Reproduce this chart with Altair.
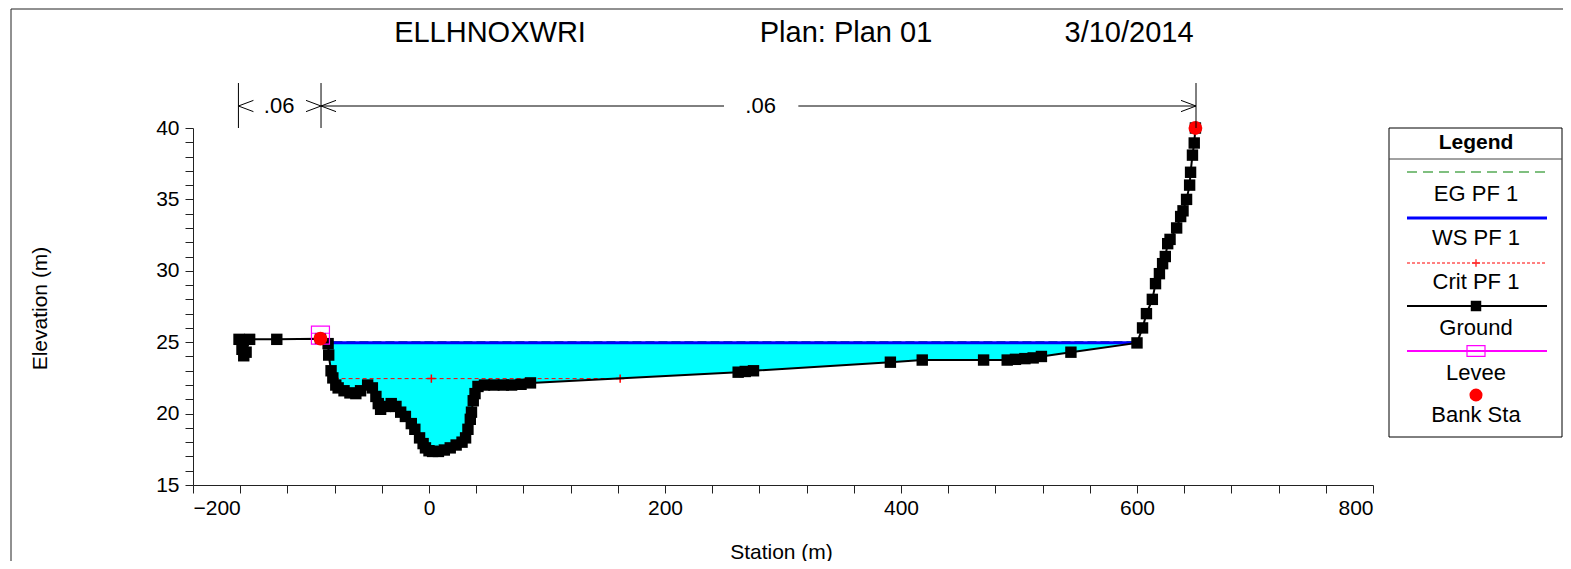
import altair as alt
import pandas as pd

FONT = "Liberation Sans"

# ---------------- data ----------------
STATION = [-161, -158.5, -157, -155, -152, -129, -92, -85.5, -85, -83, -81.5, -79, -77, -72,
           -67, -62, -58, -52, -48, -45, -43, -41, -37, -32, -28, -24, -20, -15, -12, -8,
           -5, -3, 0, 3, 8, 13, 18, 23, 28, 31, 33, 35, 36, 37.5, 39, 41.5, 47, 55, 63, 70,
           78, 86, 262, 268, 275, 391, 418, 470, 490, 497, 505, 512, 519, 544, 600, 604.7,
           608, 613, 615.7, 619, 621.7, 624, 626, 628, 633.6, 637, 639, 642, 644.6, 645.4,
           647, 648.5, 649.5]
ELEV = [25.2, 24.5, 24.05, 24.3, 25.2, 25.2, 25.25, 24.9, 24.1, 23.0, 22.5, 22.0, 21.8, 21.6,
        21.45, 21.4, 21.6, 22.0, 21.8, 21.2, 20.7, 20.3, 20.5, 20.7, 20.5, 20.1, 19.8, 19.3,
        18.9, 18.3, 17.9, 17.6, 17.4, 17.35, 17.35, 17.45, 17.6, 17.8, 18.0, 18.3, 18.9,
        19.6, 20.1, 20.9, 21.4, 21.9, 22.0, 22.0, 22.0, 22.0, 22.05, 22.15, 22.9, 22.95,
        23.0, 23.6, 23.75, 23.75, 23.75, 23.8, 23.85, 23.9, 24.0, 24.3, 24.95, 26.0, 27.0,
        28.0, 29.1, 29.8, 30.5, 31.0, 31.9, 32.2, 33.0, 33.8, 34.2, 35.0, 36.0, 36.9, 38.1,
        38.95, 40.0]

WS_ELEV = 24.97
EG_ELEV = 25.03
WS_STATIONS = [-92, 600]
CRIT_ELEV = 22.45
CRIT_STATIONS = [-80, 2, 162]
BANK_STATIONS = [-92, 649.5]
BANK_ELEV = [25.25, 40.0]
LEVEE_STATIONS = [-92]
LEVEE_ELEV = [25.5]

# Manning's n annotation
N_BOUNDS = [-161.5, -91.5, 650]
N_TEXT = [".06", ".06"]
N_TEXT_STATION = [-127, 281]
N_LINE_START = [-91.5, 313]
N_LINE_END = [250, 650]
N_ARROW_LEFT = [-161.5, -91.5]
N_ARROW_RIGHT = [-91.5, 650]
N_TOP, N_ARROW_Y, N_BOTTOM = 43.15, 41.54, 40.0

LEGEND_LABELS = ["EG PF 1", "WS PF 1", "Crit PF 1", "Ground", "Levee", "Bank Sta"]

# ---------------- tables ----------------
ground = pd.DataFrame({"station": STATION, "elev": ELEV, "idx": range(len(STATION))})
water = pd.DataFrame([
    {"station": s, "bed": min(e, WS_ELEV), "ws": WS_ELEV}
    for s, e in zip(STATION, ELEV) if WS_STATIONS[0] <= s <= WS_STATIONS[1]
])
ws_df = pd.DataFrame({"station": WS_STATIONS, "elev": [WS_ELEV] * 2})
eg_df = pd.DataFrame({"station": WS_STATIONS, "elev": [EG_ELEV] * 2})
crit_line = pd.DataFrame({"station": [CRIT_STATIONS[0], CRIT_STATIONS[-1]], "elev": [CRIT_ELEV] * 2})
crit_pts = pd.DataFrame({"station": CRIT_STATIONS, "elev": [CRIT_ELEV] * len(CRIT_STATIONS)})
bank = pd.DataFrame({"station": BANK_STATIONS, "elev": BANK_ELEV})
levee = pd.DataFrame({"station": LEVEE_STATIONS, "elev": LEVEE_ELEV})
nb = pd.DataFrame({"station": N_BOUNDS, "top": [N_TOP] * 3, "bot": [N_BOTTOM] * 3})
nseg = pd.DataFrame({"s1": N_LINE_START, "s2": N_LINE_END, "elev": [N_ARROW_Y] * 2})
ntext = pd.DataFrame({"station": N_TEXT_STATION, "elev": [N_ARROW_Y] * 2, "t": N_TEXT})
nleft = pd.DataFrame({"station": N_ARROW_LEFT, "elev": [N_ARROW_Y] * 2})
nright = pd.DataFrame({"station": N_ARROW_RIGHT, "elev": [N_ARROW_Y] * 2})

xs = alt.Scale(domain=[-200, 800], nice=False, zero=False)
ys = alt.Scale(domain=[15, 40], nice=False, zero=False)

x_axis = alt.Axis(
    values=list(range(-200, 801, 40)),
    labelExpr="datum.value % 200 == 0 ? datum.label : ''",
    title="Station (m)", grid=False, tickSize=8, tickColor="#222222",
    domainColor="#222222", labelFont=FONT, labelFontSize=21, labelColor="black",
    labelPadding=4, labelOverlap=False, titleFont=FONT, titleFontSize=21,
    titleFontWeight="normal", titleColor="black", titleX=588, titleY=67,
    titleBaseline="middle", titleAlign="center", format="d",
)
y_axis = alt.Axis(
    values=list(range(15, 41)),
    labelExpr="datum.value % 5 == 0 ? datum.label : ''",
    title="Elevation (m)", grid=False, tickSize=8, tickColor="#222222",
    domainColor="#222222", labelFont=FONT, labelFontSize=21, labelColor="black",
    labelPadding=6, labelOverlap=False, titleFont=FONT, titleFontSize=21,
    titleFontWeight="normal", titleColor="black", titleX=-153, titleY=180,
    titleBaseline="middle", titleAlign="center", titleAngle=270, format="d",
)


def X(f):
    return alt.X(f"{f}:Q", scale=xs, axis=x_axis)


def Y(f):
    return alt.Y(f"{f}:Q", scale=ys, axis=y_axis)


layers = []
layers.append(alt.Chart(water).mark_area(color="#00FFFF", opacity=1).encode(
    x=X("station"), y=Y("bed"), y2="ws:Q"))
layers.append(alt.Chart(eg_df).mark_line(color="#2e8b3a", strokeWidth=1.5, strokeDash=[9, 4]).encode(
    x=X("station"), y=Y("elev")))
layers.append(alt.Chart(ws_df).mark_line(color="#0000FF", strokeWidth=3).encode(
    x=X("station"), y=Y("elev")))
layers.append(alt.Chart(crit_line).mark_line(color="#FF0000", strokeWidth=1, strokeDash=[4, 3]).encode(
    x=X("station"), y=Y("elev")))
layers.append(alt.Chart(crit_pts).mark_point(shape="M-1,0L1,0M0,-1L0,1", size=70, filled=False,
                                             color="#FF0000", strokeWidth=1.5, opacity=1).encode(
    x=X("station"), y=Y("elev")))
layers.append(alt.Chart(ground).mark_line(color="black", strokeWidth=2).encode(
    x=X("station"), y=Y("elev"), order="idx:Q"))
layers.append(alt.Chart(ground).mark_point(shape="square", filled=True, size=130, color="black",
                                           opacity=1).encode(
    x=X("station"), y=Y("elev")))
layers.append(alt.Chart(levee).mark_point(shape="M-1,-1L1,-1L1,1L-1,1Z M-1,-0.2L1,-0.2", size=324,
                                          filled=False, color="#FF00FF", strokeWidth=1.2, opacity=1).encode(
    x=X("station"), y=Y("elev")))
layers.append(alt.Chart(bank).mark_point(shape="circle", filled=True, size=190, color="#FF0000",
                                         opacity=1).encode(
    x=X("station"), y=Y("elev")))

# Manning's n annotation
layers.append(alt.Chart(nb).mark_rule(color="black", strokeWidth=1).encode(
    x=X("station"), y=Y("top"), y2="bot:Q"))
layers.append(alt.Chart(nseg).mark_rule(color="black", strokeWidth=1).encode(
    x=X("s1"), x2="s2:Q", y=Y("elev")))
layers.append(alt.Chart(ntext).mark_text(font=FONT, fontSize=22, color="black", baseline="middle",
                                         align="center").encode(
    x=X("station"), y=Y("elev"), text="t:N"))
layers.append(alt.Chart(nleft).mark_point(shape="M2,-0.75L0,0L2,0.75", size=225, filled=False,
                                          color="black", strokeWidth=1, opacity=1).encode(
    x=X("station"), y=Y("elev")))
layers.append(alt.Chart(nright).mark_point(shape="M-2,-0.75L0,0L-2,0.75", size=225, filled=False,
                                           color="black", strokeWidth=1, opacity=1).encode(
    x=X("station"), y=Y("elev")))

# ---------------- decorations in pixel space ----------------
one = pd.DataFrame({"k": [0]})


def ptext(txt, x, y, size=20, weight="normal"):
    return alt.Chart(one).mark_text(text=txt, font=FONT, fontSize=size, fontWeight=weight,
                                    color="black", align="center", baseline="middle").encode(
        x=alt.value(x), y=alt.value(y))


def prule(x, y, x2, y2, color="black", width=1, dash=None):
    kw = dict(color=color, strokeWidth=width)
    if dash:
        kw["strokeDash"] = dash
    return alt.Chart(one).mark_rule(**kw).encode(
        x=alt.value(x), y=alt.value(y), x2=alt.value(x2), y2=alt.value(y2))


def ppoint(x, y, shape, size, color, filled, sw=1.0):
    return alt.Chart(one).mark_point(shape=shape, size=size, color=color, filled=filled,
                                     strokeWidth=sw, opacity=1).encode(
        x=alt.value(x), y=alt.value(y))


# outer frame (top and left edges)
layers.append(prule(-182, -119, 1370, -119, color="#222222"))
layers.append(prule(-182, -119, -182, 440, color="#222222"))

# title
layers.append(ptext("ELLHNOXWRI", 297, -95, size=29))
layers.append(ptext("Plan: Plan 01", 653, -95, size=29))
layers.append(ptext("3/10/2014", 936, -95, size=29))

# legend
LX0, LX1, LXC = 1196, 1369, 1283
layers.append(alt.Chart(one).mark_rect(fill="white", stroke="black", strokeWidth=1).encode(
    x=alt.value(LX0), x2=alt.value(LX1), y=alt.value(0), y2=alt.value(309)))
layers.append(ptext("Legend", LXC, 15, size=21, weight="bold"))
layers.append(prule(LX0, 31, LX1, 31, color="#444444"))
SX0, SX1 = 1214, 1354
label_y = [66, 110, 154, 200, 245, 287]
layers.append(prule(SX0, 44, SX1, 44, color="#008000", width=1.2, dash=[10, 6]))
layers.append(prule(SX0, 90, SX1, 90, color="#0000FF", width=3))
layers.append(prule(SX0, 135, SX1, 135, color="#FF0000", width=1, dash=[3, 2]))
layers.append(ppoint(LXC, 135, "M-1,0L1,0M0,-1L0,1", 60, "#FF0000", False, 1.2))
layers.append(prule(SX0, 178, SX1, 178, color="black", width=2))
layers.append(ppoint(LXC, 178, "square", 110, "black", True))
layers.append(prule(SX0, 223, SX1, 223, color="#FF00FF", width=2))
layers.append(ppoint(LXC, 223, "M-1,-0.6L1,-0.6L1,0.6L-1,0.6Z", 324, "#FF00FF", False, 1.2))
layers.append(ppoint(LXC, 267, "circle", 170, "#FF0000", True))
for lab, ly in zip(LEGEND_LABELS, label_y):
    layers.append(ptext(lab, LXC, ly, size=22))

chart = alt.layer(*layers).properties(
    width=1180, height=357,
    autosize=alt.AutoSizeParams(type="none"),
    padding={"left": 185, "top": 120, "right": 190, "bottom": 76},
    background="white",
).configure_view(stroke=None)

chart.save("out.html", embed_options={"renderer": "svg", "actions": False})
